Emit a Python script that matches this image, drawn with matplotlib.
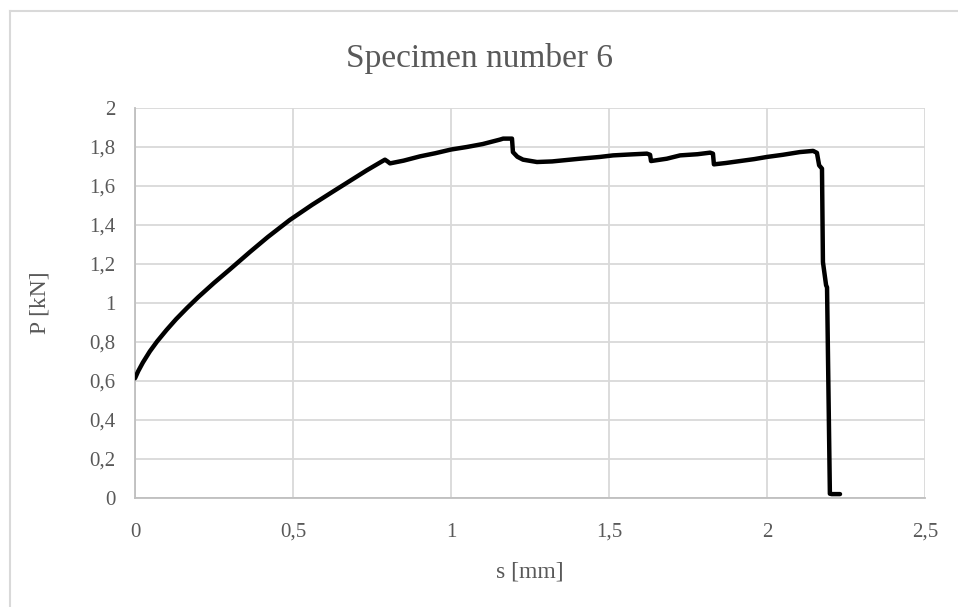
import matplotlib
matplotlib.use("Agg")
import matplotlib.pyplot as plt
from matplotlib.lines import Line2D

# Load-displacement record, specimen 6
s_mm = [0.000, 0.010, 0.025, 0.047, 0.070, 0.100, 0.130, 0.165, 0.200, 0.250,
        0.300, 0.364, 0.420, 0.490, 0.560, 0.627, 0.680, 0.733, 0.775, 0.791,
        0.800, 0.807, 0.850, 0.902, 0.950, 1.000, 1.050, 1.100, 1.155, 1.165,
        1.193, 1.196, 1.210, 1.228, 1.272, 1.320, 1.408, 1.471, 1.513, 1.570,
        1.620, 1.630, 1.633, 1.683, 1.725, 1.780, 1.820, 1.829, 1.832, 1.870,
        1.915, 1.960, 2.000, 2.050, 2.104, 2.146, 2.158, 2.165, 2.174, 2.177,
        2.187, 2.190, 2.199, 2.205, 2.231]
p_kN = [0.614, 0.650, 0.695, 0.752, 0.803, 0.862, 0.917, 0.975, 1.030, 1.103,
        1.172, 1.262, 1.338, 1.426, 1.503, 1.572, 1.626, 1.680, 1.720, 1.735,
        1.725, 1.716, 1.730, 1.752, 1.768, 1.787, 1.800, 1.815, 1.838, 1.843,
        1.843, 1.774, 1.750, 1.735, 1.723, 1.726, 1.740, 1.749, 1.757, 1.762,
        1.766, 1.760, 1.728, 1.740, 1.757, 1.763, 1.771, 1.766, 1.711, 1.718,
        1.728, 1.738, 1.749, 1.760, 1.774, 1.780, 1.770, 1.706, 1.689, 1.210,
        1.091, 1.080, 0.022, 0.020, 0.020]

x_ticks = [0, 0.5, 1, 1.5, 2, 2.5]
x_tick_labels = ["0", "0,5", "1", "1,5", "2", "2,5"]
y_ticks = [0, 0.2, 0.4, 0.6, 0.8, 1.0, 1.2, 1.4, 1.6, 1.8, 2.0]
y_tick_labels = ["0", "0,2", "0,4", "0,6", "0,8", "1", "1,2", "1,4", "1,6", "1,8", "2"]

W, H = 958, 607
fig = plt.figure(figsize=(W / 100, H / 100), dpi=100)
fig.patch.set_facecolor("white")

# plot area in pixels: left 135, right 925, top 108, bottom 498
left, right, top, bottom = 135, 925, 108, 498
ax = fig.add_axes([left / W, 1 - bottom / H, (right - left) / W, (bottom - top) / H])

serif = ["Liberation Serif", "DejaVu Serif"]
txt_color = "#595959"
grid_color = "#d9d9d9"

ax.plot(s_mm, p_kN, color="black", linewidth=3.2, solid_joinstyle="round",
        solid_capstyle="round", zorder=3)

ax.set_xlim(0, 2.5)
ax.set_ylim(0, 2)
ax.set_xticks(x_ticks)
ax.set_xticklabels(x_tick_labels)
ax.set_yticks(y_ticks)
ax.set_yticklabels(y_tick_labels)
ax.grid(True, color=grid_color, linewidth=1.3, zorder=0)
ax.set_axisbelow(True)

for side in ("top", "right"):
    ax.spines[side].set_visible(False)
for side in ("left", "bottom"):
    ax.spines[side].set_color("#bfbfbf")
    ax.spines[side].set_linewidth(1.3)

ax.tick_params(axis="both", length=0, labelsize=15, labelcolor=txt_color)
ax.tick_params(axis="x", pad=18)
ax.tick_params(axis="y", pad=14)
for lab in ax.get_xticklabels() + ax.get_yticklabels():
    lab.set_family(serif)

ax.set_xlabel("s [mm]", fontsize=17, color=txt_color, family=serif, labelpad=14)
ax.set_ylabel("P [kN]", fontsize=17, color=txt_color, family=serif, labelpad=28)

fig.text(479 / W, 1 - 58 / H, "Specimen number 6", ha="center", va="center",
         fontsize=24, color=txt_color, family=serif)

# outer chart frame
frame_kw = dict(color="#d9d9d9", linewidth=1.5, transform=fig.transFigure)
fig.add_artist(Line2D([9.5 / W, 1.0], [1 - 11 / H, 1 - 11 / H], **frame_kw))
fig.add_artist(Line2D([9.5 / W, 9.5 / W], [0.0, 1 - 11 / H], **frame_kw))

fig.savefig("out.png", dpi=100, facecolor="white")
